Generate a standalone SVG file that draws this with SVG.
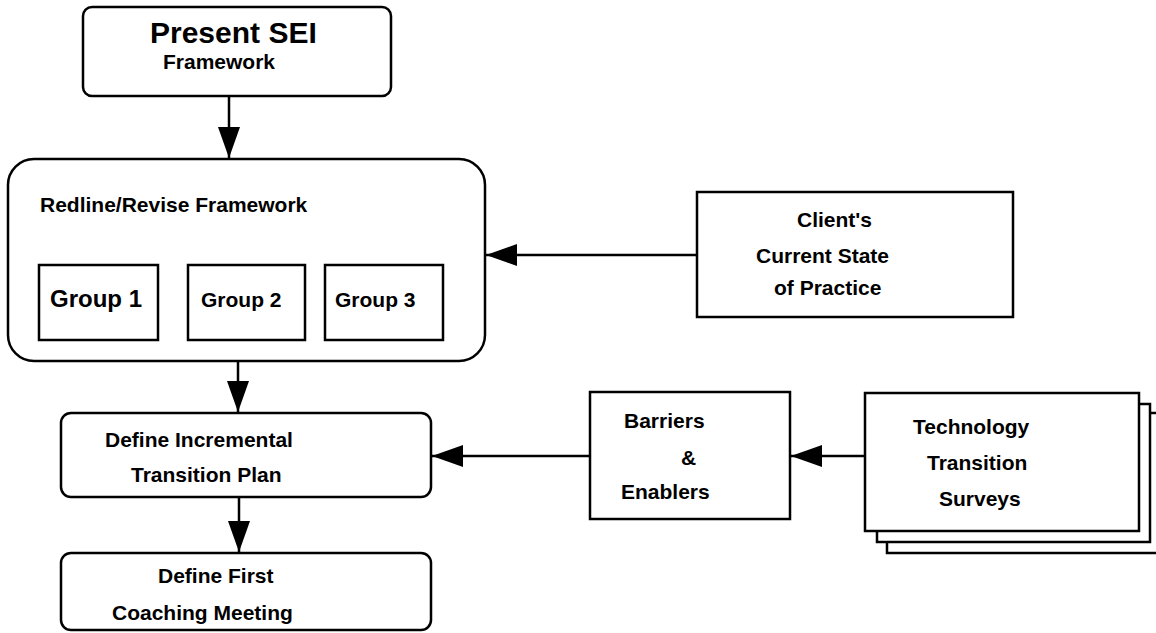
<svg xmlns="http://www.w3.org/2000/svg" width="1156" height="633" viewBox="0 0 1156 633">
<defs>
<style>
.box{fill:#fff;stroke:#000;stroke-width:2.5}
.t{font-family:"Liberation Sans",Arial,sans-serif;font-weight:bold;font-size:21px;fill:#000}
.c{fill:none;stroke:#000;stroke-width:2.5}
</style>
<marker id="ah" markerUnits="userSpaceOnUse" markerWidth="32" markerHeight="22" refX="31" refY="11" orient="auto">
<path d="M0,0 L31,11 L0,22 z" fill="#000"/>
</marker>
</defs>
<rect width="1156" height="633" fill="#fff"/>
<g id="connectors">
<line class="c" x1="229" y1="96" x2="229" y2="158" marker-end="url(#ah)"/>
<line class="c" x1="697" y1="255" x2="486" y2="255" marker-end="url(#ah)"/>
<line class="c" x1="238" y1="361" x2="238" y2="412" marker-end="url(#ah)"/>
<line class="c" x1="590" y1="456" x2="432" y2="456" marker-end="url(#ah)"/>
<line class="c" x1="865" y1="456" x2="791" y2="456" marker-end="url(#ah)"/>
<line class="c" x1="239" y1="497" x2="239" y2="552" marker-end="url(#ah)"/>
</g>
<g id="present">
<rect class="box" x="83" y="7" width="308" height="89" rx="9"/>
<text class="t" x="150" y="43" style="font-size:30px">Present SEI</text>
<text class="t" x="163" y="69">Framework</text>
</g>
<g id="redline">
<rect class="box" x="8" y="159" width="477" height="202" rx="26"/>
<text class="t" x="40" y="212">Redline/Revise Framework</text>
</g>
<g id="group1">
<rect class="box" x="39" y="265" width="119" height="75"/>
<text class="t" x="50" y="307" style="font-size:24px">Group 1</text>
</g>
<g id="group2">
<rect class="box" x="188" y="265" width="117" height="75"/>
<text class="t" x="201" y="307">Group 2</text>
</g>
<g id="group3">
<rect class="box" x="325" y="265" width="118" height="75"/>
<text class="t" x="335" y="307">Group 3</text>
</g>
<g id="client">
<rect class="box" x="697" y="192" width="316" height="125"/>
<text class="t" x="797" y="227">Client's</text>
<text class="t" x="756" y="263">Current State</text>
<text class="t" x="774" y="295">of Practice</text>
</g>
<g id="incremental">
<rect class="box" x="61" y="413" width="370" height="84" rx="10"/>
<text class="t" x="105" y="447">Define Incremental</text>
<text class="t" x="131" y="482">Transition Plan</text>
</g>
<g id="first">
<rect class="box" x="61" y="553" width="370" height="77" rx="10"/>
<text class="t" x="158" y="583">Define First</text>
<text class="t" x="112" y="620">Coaching Meeting</text>
</g>
<g id="barriers">
<rect class="box" x="590" y="392" width="200" height="127"/>
<text class="t" x="624" y="428">Barriers</text>
<text class="t" x="681" y="465">&amp;</text>
<text class="t" x="621" y="499">Enablers</text>
</g>
<g id="surveys">
<rect class="box" x="887" y="413" width="280" height="140"/>
<rect class="box" x="877" y="404" width="273" height="138"/>
<rect class="box" x="865" y="393" width="274" height="138"/>
<text class="t" x="913" y="434">Technology</text>
<text class="t" x="927" y="470">Transition</text>
<text class="t" x="939" y="506">Surveys</text>
</g>
</svg>
